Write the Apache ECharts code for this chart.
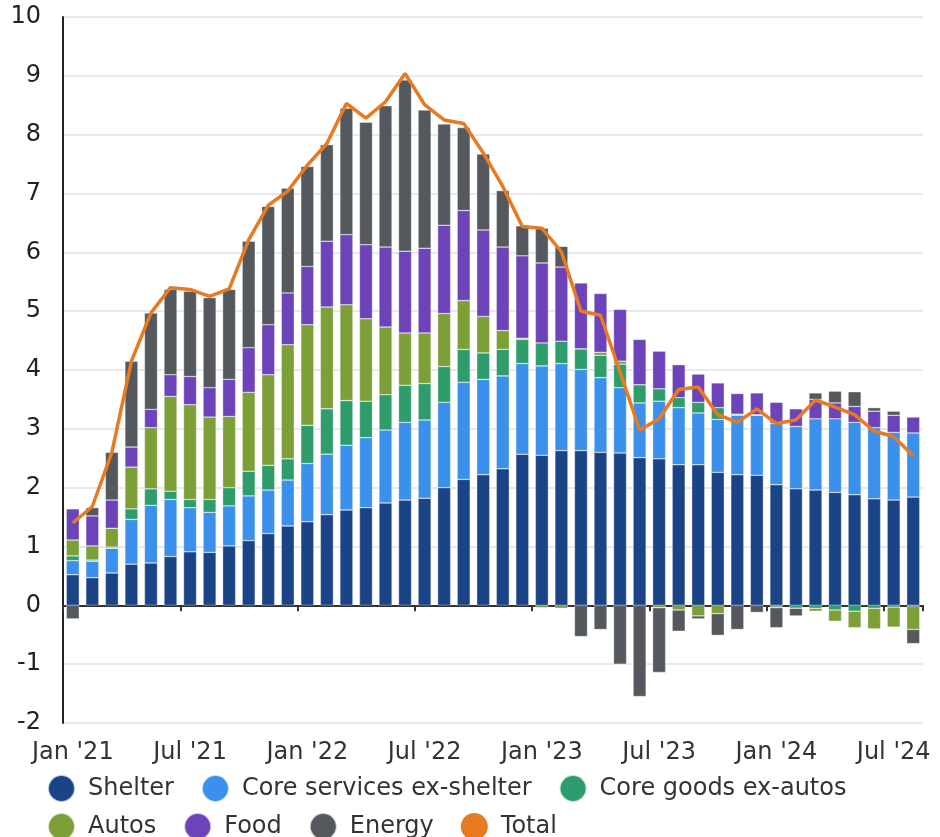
<!DOCTYPE html>
<html>
<head>
<meta charset="utf-8">
<script src="https://cdn.jsdelivr.net/npm/echarts@6/dist/echarts.min.js"></script>
<style>
  html, body { margin: 0; padding: 0; background: #fff; }
  #chart { width: 940px; height: 837px; }
</style>
</head>
<body>
<div id="chart"></div>
<script>
// months, Jan '21 .. Aug '24
const months = [
  "Jan '21", "Feb '21", "Mar '21", "Apr '21", "May '21", "Jun '21", "Jul '21", "Aug '21", "Sep '21", "Oct '21", "Nov '21", "Dec '21",
  "Jan '22", "Feb '22", "Mar '22", "Apr '22", "May '22", "Jun '22", "Jul '22", "Aug '22", "Sep '22", "Oct '22", "Nov '22", "Dec '22",
  "Jan '23", "Feb '23", "Mar '23", "Apr '23", "May '23", "Jun '23", "Jul '23", "Aug '23", "Sep '23", "Oct '23", "Nov '23", "Dec '23",
  "Jan '24", "Feb '24", "Mar '24", "Apr '24", "May '24", "Jun '24", "Jul '24", "Aug '24"
];

// contributions, percentage points
const shelter = [0.52, 0.47, 0.55, 0.70, 0.72, 0.83, 0.91, 0.90, 1.01, 1.10, 1.22, 1.35,
  1.42, 1.54, 1.62, 1.66, 1.74, 1.79, 1.82, 2.00, 2.14, 2.22, 2.32, 2.57,
  2.55, 2.63, 2.63, 2.60, 2.59, 2.51, 2.49, 2.39, 2.39, 2.26, 2.22, 2.21,
  2.05, 1.98, 1.96, 1.92, 1.88, 1.81, 1.79, 1.84];
const coreServices = [0.24, 0.28, 0.42, 0.76, 0.98, 0.97, 0.75, 0.68, 0.68, 0.76, 0.74, 0.78,
  0.99, 1.03, 1.10, 1.19, 1.24, 1.32, 1.33, 1.45, 1.65, 1.62, 1.58, 1.54,
  1.52, 1.48, 1.38, 1.27, 1.11, 0.93, 0.98, 0.97, 0.88, 0.90, 1.01, 1.02,
  1.04, 1.06, 1.21, 1.25, 1.23, 1.21, 1.15, 1.09];
const coreGoods = [0.08, 0.02, 0.02, 0.18, 0.28, 0.14, 0.14, 0.22, 0.31, 0.42, 0.42, 0.36,
  0.65, 0.77, 0.76, 0.62, 0.60, 0.63, 0.62, 0.61, 0.56, 0.45, 0.45, 0.41,
  0.39, 0.38, 0.35, 0.38, 0.40, 0.31, 0.21, 0.17, 0.18, 0.20, 0.02, 0.01,
  -0.02, -0.05, -0.05, -0.08, -0.10, -0.05, -0.03, -0.02];
const autos = [0.27, 0.24, 0.32, 0.71, 1.04, 1.61, 1.61, 1.40, 1.21, 1.34, 1.54, 1.94,
  1.71, 1.73, 1.63, 1.40, 1.15, 0.89, 0.86, 0.90, 0.83, 0.62, 0.32, 0.02,
  -0.04, -0.05, 0, 0.05, 0.05, 0, -0.04, -0.08, -0.18, -0.14, 0, 0,
  -0.02, 0, -0.05, -0.19, -0.28, -0.35, -0.34, -0.39];
const food = [0.53, 0.51, 0.48, 0.34, 0.31, 0.37, 0.48, 0.50, 0.63, 0.76, 0.85, 0.88,
  0.99, 1.12, 1.19, 1.26, 1.36, 1.39, 1.44, 1.50, 1.53, 1.47, 1.42, 1.40,
  1.36, 1.26, 1.12, 1.00, 0.88, 0.77, 0.64, 0.56, 0.48, 0.42, 0.35, 0.37,
  0.36, 0.30, 0.33, 0.27, 0.27, 0.28, 0.29, 0.27];
const energy = [-0.23, 0.14, 0.81, 1.46, 1.64, 1.45, 1.45, 1.53, 1.53, 1.81, 2.01, 1.78,
  1.70, 1.64, 2.15, 2.08, 2.40, 2.91, 2.35, 1.72, 1.41, 1.29, 0.96, 0.51,
  0.59, 0.35, -0.53, -0.41, -1.00, -1.55, -1.10, -0.36, -0.05, -0.37, -0.41, -0.12,
  -0.34, -0.13, 0.11, 0.20, 0.25, 0.06, 0.07, -0.24];
const total = [1.40, 1.68, 2.60, 4.15, 4.97, 5.40, 5.37, 5.25, 5.38, 6.21, 6.80, 7.04,
  7.48, 7.85, 8.53, 8.28, 8.56, 9.04, 8.51, 8.25, 8.19, 7.69, 7.12, 6.44,
  6.41, 6.01, 5.00, 4.93, 3.97, 2.98, 3.17, 3.67, 3.71, 3.24, 3.11, 3.34,
  3.09, 3.15, 3.49, 3.37, 3.24, 2.96, 2.87, 2.54];

const yTicks = [-2, -1, 0, 1, 2, 3, 4, 5, 6, 7, 8, 9, 10];

const font = "'DejaVu Sans', sans-serif";
const colors = {
  "Shelter": "#1b4487",
  "Core services ex-shelter": "#3a90ea",
  "Core goods ex-autos": "#2f9c6c",
  "Autos": "#7c9f38",
  "Food": "#6d43b9",
  "Energy": "#55595d",
  "Total": "#e87a21"
};

function barSeries(name, data) {
  return {
    name: name,
    type: "bar",
    stack: "cpi",
    barWidth: 13,
    xAxisIndex: 0,
    itemStyle: { color: colors[name], borderColor: "rgba(255,255,255,0.7)", borderWidth: 0.5 },
    data: data
  };
}

const chart = echarts.init(document.getElementById("chart"));

const legendBase = {
  left: 42,
  icon: "circle",
  itemWidth: 31,
  itemHeight: 27,
  symbolKeepAspect: false,
  itemGap: 27,
  textStyle: { fontSize: 24, fontFamily: font, color: "#333", padding: [0, 0, 0, 6] }
};

chart.setOption({
  animation: false,
  grid: { left: 63, right: 17, top: 17, bottom: 114 },
  legend: [
    Object.assign({}, legendBase, { top: 769, data: ["Shelter", "Core services ex-shelter", "Core goods ex-autos"] }),
    Object.assign({}, legendBase, { top: 807, data: ["Autos", "Food", "Energy", "Total"] })
  ],
  xAxis: [
    {
      type: "category",
      data: months,
      position: "bottom",
      axisLine: { show: false, onZero: false },
      axisTick: { show: false },
      axisLabel: { interval: 5, fontSize: 24, fontFamily: font, color: "#333", margin: 18 }
    },
    {
      type: "category",
      data: months,
      position: "bottom",
      axisLine: { show: true, onZero: true, lineStyle: { color: "#333", width: 2 } },
      axisTick: { show: true, interval: 5, length: 6, lineStyle: { color: "#333", width: 2 } },
      axisLabel: { show: false }
    }
  ],
  yAxis: {
    type: "value",
    min: yTicks[0],
    max: yTicks[yTicks.length - 1],
    interval: 1,
    axisLine: { show: true, lineStyle: { color: "#222", width: 2 } },
    axisTick: { show: false },
    axisLabel: { fontSize: 24, fontFamily: font, color: "#222", margin: 22 },
    splitLine: { lineStyle: { color: "#e2e2e2", width: 1.5 } }
  },
  series: [
    barSeries("Shelter", shelter),
    barSeries("Core services ex-shelter", coreServices),
    barSeries("Core goods ex-autos", coreGoods),
    barSeries("Autos", autos),
    barSeries("Food", food),
    barSeries("Energy", energy),
    {
      name: "Total",
      type: "line",
      xAxisIndex: 0,
      data: total,
      symbol: "none",
      z: 5,
      itemStyle: { color: colors["Total"] },
      lineStyle: { color: colors["Total"], width: 3.5 }
    }
  ]
});
</script>
</body>
</html>
